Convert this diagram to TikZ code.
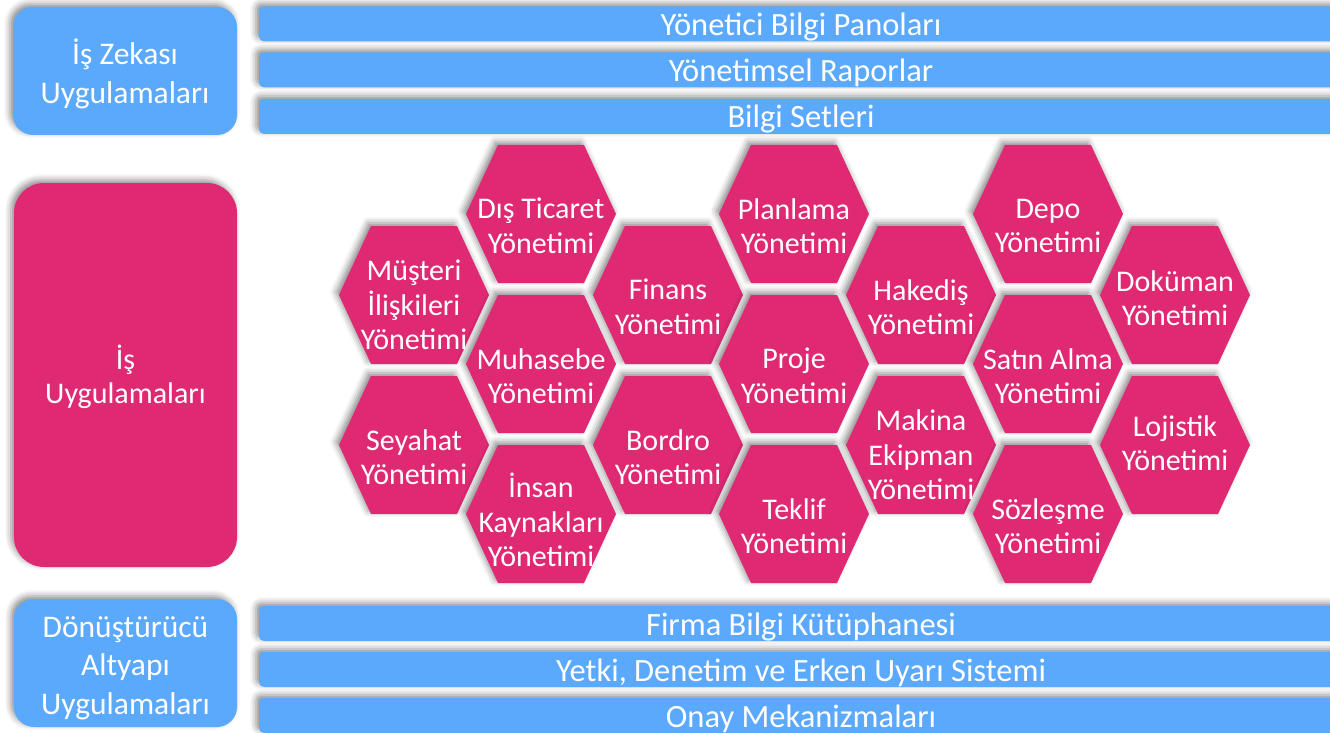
\documentclass[tikz,border=0pt]{standalone}
\usepackage{fontspec}
\setmainfont{Carlito}
\usetikzlibrary{shadows.blur}
\definecolor{barblue}{RGB}{91,169,252}
\definecolor{hexpink}{RGB}{224,41,115}
\tikzset{
  shd/.style={blur shadow={shadow xshift=-3pt,shadow yshift=3pt,shadow blur radius=6pt,shadow opacity=45}},
  sidetext/.style={text=white,align=center,font=\fontsize{31.5}{38.5}\selectfont,inner sep=0pt},
  barbox/.style={shd,fill=barblue,rounded corners=5pt,text=white,
     font=\fontsize{32.5}{34}\selectfont,minimum width=1084pt,minimum height=35pt,inner sep=0pt,
     text height=28pt,text depth=5pt},
  hexshape/.style={shd,fill=hexpink},
  hextext/.style={text=white,align=center,font=\fontsize{30}{34.5}\selectfont,inner sep=0pt}
}
\newcommand{\hexcell}[3]{%
  \fill[hexshape] (#2-75,#3) -- (#2-43,#3-69) -- (#2+43,#3-69) -- (#2+75,#3) -- (#2+43,#3+69) -- (#2-43,#3+69) -- cycle;}
\begin{document}
\begin{tikzpicture}[x=1pt,y=-1pt]
\useasboundingbox (0,0) rectangle (1330,733);
\clip (0,0) rectangle (1330,733);
% left boxes
\fill[shd,fill=barblue,rounded corners=20pt] (13,7) rectangle (237,135);
\node[sidetext] (bi) at (125,74) {İş Zekası\\Uygulamaları};
\fill[shd,fill=hexpink,rounded corners=30pt] (14,183) rectangle (237,567);
\node[sidetext,font=\fontsize{30}{34}\selectfont] (ba) at (125.5,377) {İş\\Uygulamaları};
\fill[shd,fill=barblue,rounded corners=20pt] (14,599) rectangle (237,727);
\node[sidetext] (ia) at (125.5,668) {Dönüştürücü\\Altyapı\\Uygulamaları};
% bars
\node[barbox] (b1) at (801,24) {Yönetici Bilgi Panoları};
\node[barbox] (b2) at (801,70) {Yönetimsel Raporlar};
\node[barbox] (b3) at (801,116.5) {Bilgi Setleri};
\node[barbox] (b4) at (801,623.5) {Firma Bilgi Kütüphanesi};
\node[barbox] (b5) at (801,669.5) {Yetki, Denetim ve Erken Uyarı Sistemi};
\node[barbox] (b6) at (801,715.5) {Onay Mekanizmaları};
% hexagons
\hexcell{h1}{414}{295}
\hexcell{h2}{414}{445}
\hexcell{h3}{541}{214}
\hexcell{h4}{541}{364}
\hexcell{h5}{541}{514}
\hexcell{h6}{668}{295}
\hexcell{h7}{668}{445}
\hexcell{h8}{794}{214}
\hexcell{h9}{794}{364}
\hexcell{h10}{794}{514}
\hexcell{h11}{921}{295}
\hexcell{h12}{921}{445}
\hexcell{h13}{1048}{214}
\hexcell{h14}{1048}{364}
\hexcell{h15}{1048}{514}
\hexcell{h16}{1175}{295}
\hexcell{h17}{1175}{445}
% hexagon texts
\node[hextext] (t1) at (414,305) {Müşteri\\İlişkileri\\Yönetimi};
\node[hextext] (t2) at (414,457) {Seyahat\\Yönetimi};
\node[hextext] (t3) at (541,226) {Dış Ticaret\\Yönetimi};
\node[hextext] (t4) at (541,376) {Muhasebe\\Yönetimi};
\node[hextext] (t5) at (541,520) {İnsan\\Kaynakları\\Yönetimi};
\node[hextext] (t6) at (668,307) {Finans\\Yönetimi};
\node[hextext] (t7) at (668,457) {Bordro\\Yönetimi};
\node[hextext] (t8) at (794,226) {Planlama\\Yönetimi};
\node[hextext] (t9) at (794,376) {Proje\\Yönetimi};
\node[hextext] (t10) at (794,526) {Teklif\\Yönetimi};
\node[hextext] (t11) at (921,307) {Hakediş\\Yönetimi};
\node[hextext] (t12) at (921,455) {Makina\\Ekipman\\Yönetimi};
\node[hextext] (t13) at (1048,226) {Depo\\Yönetimi};
\node[hextext] (t14) at (1048,376) {Satın Alma\\Yönetimi};
\node[hextext] (t15) at (1048,526) {Sözleşme\\Yönetimi};
\node[hextext] (t16) at (1175,298) {Doküman\\Yönetimi};
\node[hextext] (t17) at (1175,443) {Lojistik\\Yönetimi};
\end{tikzpicture}
\end{document}
